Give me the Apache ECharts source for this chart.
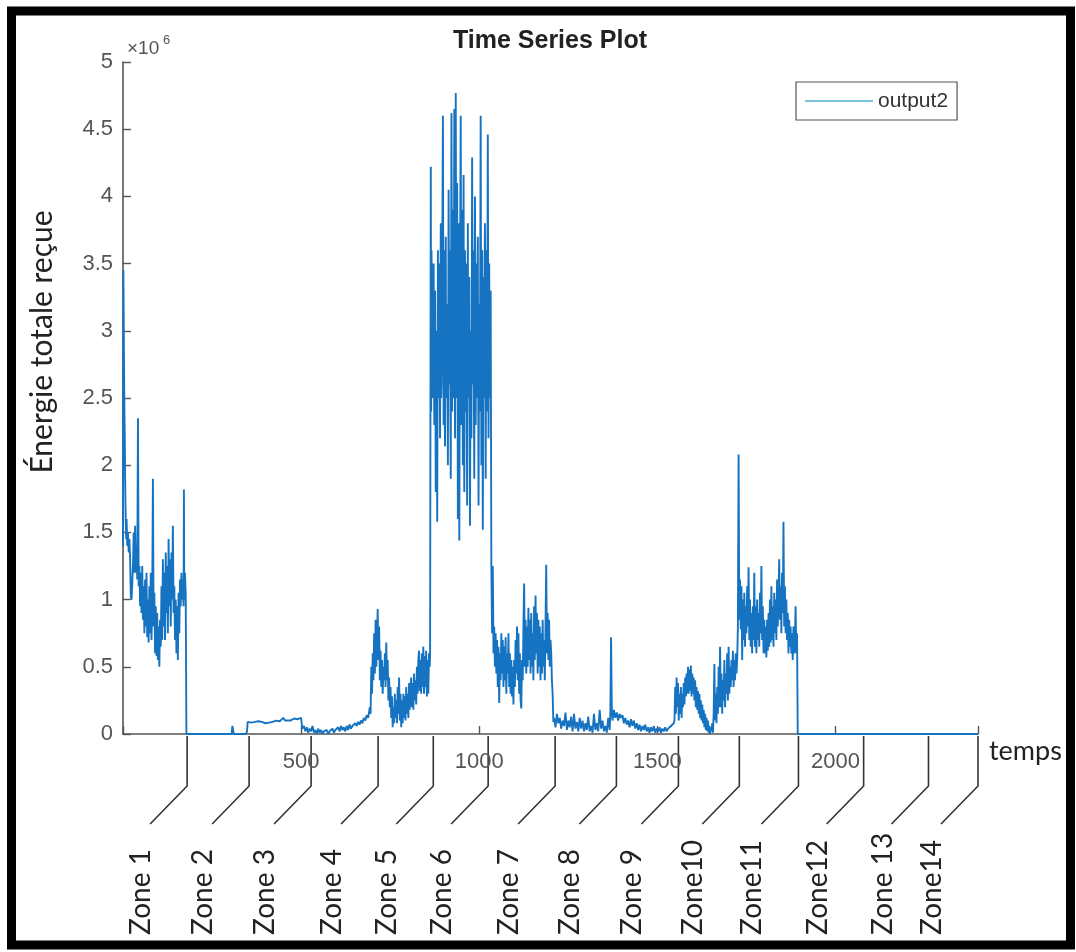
<!DOCTYPE html>
<html>
<head>
<meta charset="utf-8">
<script src="https://cdn.jsdelivr.net/npm/echarts@6/dist/echarts.min.js"></script>
<style>
  html, body { margin: 0; padding: 0; background: #ffffff; }
  #chart { width: 1076px; height: 952px; }
</style>
</head>
<body>
<div id="chart"></div>
<script>
// Values: [temps, énergie (×10^6)]
const zone1Data = [[0,1.4],[1,3.45],[2,3.1],[3,2.7],[4,2.4],[5,2.2],[6,1.9],[7,1.7],[8,1.55],[9,1.45],[10,1.6],[12,1.4],[14,1.5],[16,1.35],[18,1.45],[20,1.3],[22,1.02],[24,1.0],[27,1.0],
[28,1.25],[30,1.5],[32,1.2],[34,1.55],[36,1.2],[38,1.4],[40,1.15],[42,2.35],[44,1.1],[46,1.25],[48,0.95],[50,1.2],[52,0.9],[54,1.25],[56,0.85],[58,1.1],[60,0.75],[62,1.15],[64,0.8],[66,1.2],[68,0.72],[70,1.0],[72,0.68],[74,1.1],[76,0.75],[78,1.2],[80,0.7],[82,1.0],[84,1.9],[86,0.8],[88,1.05],[90,0.6],[92,0.95],[94,0.58],[96,0.9],[98,0.55],[100,0.8],[102,0.5],[104,0.85],[106,0.65],[108,1.1],[110,0.7],[112,1.3],[114,0.8],[116,1.2],[118,0.7],[120,1.35],[122,0.9],[124,1.25],[126,0.75],[128,1.45],[130,0.95],[132,1.3],[134,0.8],[136,1.35],[138,1.0],[140,1.55],[142,0.9],[144,1.1],[146,0.7],[148,1.0],[150,0.6],[152,0.95],[154,0.55],[156,1.05],[158,0.75],[160,1.15],[162,0.95],[164,1.2],[166,1.0],[168,1.15],[170,0.95],[171,1.82],[172,1.0],[174,1.2],[176,1.05],[178,0]];
const zone23Data = [[305,0],[307,0.06],[309,0.07],[311,0],[345,0],[348,0.02],[350,0.09],[360,0.085],[370,0.09],[380,0.095],[390,0.09],[400,0.08],[410,0.085],[420,0.09],[430,0.1],[440,0.095],[450,0.12],[455,0.1],[460,0.11],[470,0.1],[480,0.115],[490,0.11],[500,0.12],[503,0.04]];
const zone4Data = [[504,0.03],[508,0.06],[512,0.02],[516,0.05],[520,0.01],[524,0.04],[528,0.02],[532,0.06],[536,0.01],[540,0.03],[544,0.0],[548,0.04],[552,0.01],[556,0.03],[560,0.0],[564,0.02],[568,0.01],[572,0.03],[576,0.0],[580,0.02],[584,0.01],[588,0.04],[592,0.01],[596,0.03],[600,0.02],[604,0.05],[608,0.02],[612,0.06],[616,0.03],[620,0.05],[624,0.02],[628,0.06],[632,0.03],[636,0.07],[640,0.04],[644,0.06],[648,0.05],[652,0.08],[656,0.06],[660,0.09],[664,0.07],[668,0.1],[672,0.08],[676,0.12],[680,0.1],[684,0.14],[688,0.12]];
const zone5Data = [[690,0.12],[693,0.2],[695,0.15],[697,0.5],[699,0.3],[701,0.6],[703,0.4],[705,0.75],[707,0.45],[709,0.85],[711,0.5],[713,0.7],[715,0.93],[717,0.55],[719,0.8],[721,0.4],[723,0.62],[725,0.35],[727,0.55],[729,0.3],[731,0.5],[733,0.4],[735,0.6],[737,0.35],[739,0.68],[741,0.4],[743,0.55],[745,0.25],[747,0.42],[749,0.2],[751,0.35],[753,0.12],[755,0.28],[757,0.05],[759,0.2],[761,0.08],[763,0.3],[765,0.12],[767,0.25],[769,0.08],[771,0.35],[773,0.15],[775,0.42],[777,0.1],[779,0.3],[781,0.05],[783,0.25],[785,0.08],[787,0.3],[789,0.12],[791,0.28],[793,0.1],[795,0.35],[797,0.15],[799,0.3],[801,0.12],[803,0.38],[805,0.18],[807,0.35],[809,0.42],[811,0.2],[813,0.38],[815,0.18],[817,0.45],[819,0.25],[821,0.4],[823,0.22],[825,0.5],[827,0.3],[829,0.55],[831,0.62],[833,0.32],[835,0.55],[837,0.3],[839,0.6],[841,0.35],[843,0.65],[845,0.3],[847,0.58],[849,0.35],[851,0.62],[853,0.28],[855,0.55],[857,0.3],[859,0.6],[861,0.5]];
const zone6Data = [[862,0.6],[864,4.22],[865,2.4],[866,3.6],[868,2.5],[869,3.5],[870,2.5],[872,3.5],[873,2.6],[874,2.3],[876,3.3],[878,1.8],[880,3.0],[882,1.58],[884,3.6],[885,2.5],[886,2.6],[887,3.4],[888,3.5],[890,2.2],[892,3.8],[893,2.5],[894,2.6],[896,3.4],[898,4.6],[900,2.3],[901,3.6],[902,3.5],[903,2.4],[904,2.14],[906,3.7],[907,2.6],[908,2.5],[910,3.2],[912,2.0],[914,4.05],[916,2.6],[917,3.5],[918,3.6],[919,2.5],[920,1.9],[922,4.62],[924,2.4],[926,3.9],[927,2.5],[928,2.7],[929,3.6],[930,4.65],[932,2.2],[934,4.77],[936,2.5],[937,3.5],[938,4.1],[940,1.6],[942,3.8],[943,2.4],[944,1.44],[946,3.4],[948,4.6],[950,2.3],[951,3.6],[952,3.9],[954,2.0],[956,4.16],[957,2.5],[958,1.8],[960,3.6],[961,2.5],[962,2.4],[963,3.5],[964,3.2],[966,1.7],[968,3.8],[969,2.6],[970,2.5],[972,3.4],[974,1.55],[976,3.0],[977,2.4],[978,2.2],[980,4.29],[982,2.6],[983,3.5],[984,3.6],[985,2.5],[986,1.9],[988,4.0],[990,2.3],[992,3.5],[993,2.5],[994,2.8],[996,3.7],[998,1.7],[1000,3.2],[1001,2.4],[1002,2.5],[1003,3.6],[1004,4.6],[1006,2.0],[1008,3.6],[1010,1.52],[1012,3.4],[1013,2.5],[1014,2.6],[1015,3.5],[1016,3.8],[1018,1.9],[1020,3.6],[1022,2.4],[1024,4.46],[1026,2.2],[1028,3.5],[1029,2.5],[1030,2.6],[1032,3.3],[1034,1.25]];
const zone7Data = [[1036,0.75],[1038,1.25],[1040,0.6],[1042,0.8],[1044,0.5],[1046,0.75],[1048,0.45],[1050,0.7],[1052,0.35],[1054,0.65],[1056,0.23],[1058,0.6],[1060,0.4],[1062,0.75],[1064,0.45],[1066,0.7],[1068,0.35],[1070,0.65],[1072,0.4],[1074,0.72],[1076,0.3],[1078,0.6],[1080,0.45],[1082,0.75],[1084,0.35],[1086,0.6],[1088,0.3],[1090,0.55],[1092,0.28],[1094,0.5],[1096,0.22],[1098,0.55],[1100,0.35],[1102,0.7],[1104,0.45],[1106,0.8],[1108,0.4],[1110,0.75],[1112,0.3],[1114,0.6],[1116,0.25],[1118,0.19],[1120,0.55],[1122,0.4],[1124,0.8],[1126,1.12],[1128,0.5],[1130,0.85],[1132,0.45],[1134,0.8],[1136,0.5],[1138,0.94],[1140,0.55],[1142,0.85],[1144,0.45],[1146,0.9],[1148,0.5],[1150,0.75],[1152,0.4],[1154,0.95],[1156,0.55],[1158,1.03],[1160,0.6],[1162,0.9],[1164,0.45],[1166,0.85],[1168,0.5],[1170,0.8],[1172,0.4],[1174,0.75],[1176,0.45],[1178,0.85],[1180,0.5],[1182,0.7],[1184,0.4],[1186,0.8],[1188,1.26],[1190,0.6],[1192,0.9],[1194,0.55],[1196,0.85],[1198,0.5],[1200,0.7],[1202,0.6],[1204,0.4],[1206,0.3],[1208,0.09]];
const zone8Data = [[1210,0.12],[1214,0.05],[1218,0.15],[1222,0.08],[1226,0.12],[1230,0.04],[1234,0.1],[1238,0.06],[1242,0.16],[1246,0.03],[1250,0.1],[1254,0.05],[1258,0.13],[1262,0.02],[1266,0.15],[1270,0.04],[1274,0.09],[1278,0.02],[1282,0.12],[1286,0.04],[1290,0.1],[1294,0.02],[1298,0.08],[1302,0.03],[1306,0.13],[1310,0.02],[1314,0.06],[1318,0.01],[1322,0.15],[1326,0.03],[1330,0.08],[1334,0.02],[1338,0.18],[1342,0.04],[1346,0.1],[1350,0.02],[1354,0.06],[1358,0.01],[1362,0.12],[1366,0.03],[1368,0.15],[1370,0.72],[1372,0.2],[1374,0.1],[1378,0.18],[1382,0.12],[1386,0.16],[1390,0.1],[1394,0.15],[1398,0.12],[1402,0.14],[1406,0.08],[1410,0.12],[1414,0.07],[1418,0.1]];
const zone9Data = [[1422,0.05],[1426,0.11],[1430,0.06],[1434,0.1],[1438,0.04],[1442,0.08],[1446,0.03],[1450,0.07],[1454,0.02],[1458,0.06],[1462,0.03],[1466,0.07],[1470,0.02],[1474,0.05],[1478,0.01],[1482,0.05],[1486,0.02],[1490,0.06],[1494,0.01],[1498,0.04],[1502,0.02],[1506,0.05],[1510,0.01],[1514,0.04],[1518,0.02],[1522,0.05],[1526,0.02],[1530,0.04],[1534,0.03],[1538,0.06],[1542,0.05],[1546,0.08]];
const zone10Data = [[1548,0.1],[1550,0.35],[1552,0.15],[1554,0.42],[1556,0.2],[1558,0.38],[1560,0.1],[1562,0.3],[1564,0.15],[1566,0.35],[1568,0.12],[1570,0.3],[1572,0.2],[1574,0.38],[1576,0.22],[1578,0.42],[1580,0.28],[1582,0.45],[1584,0.3],[1586,0.5],[1588,0.3],[1590,0.48],[1592,0.32],[1594,0.51],[1596,0.28],[1598,0.45],[1600,0.3],[1602,0.42],[1604,0.25],[1606,0.4],[1608,0.2],[1610,0.35],[1612,0.18],[1614,0.32],[1616,0.15],[1618,0.3],[1620,0.12],[1622,0.25],[1624,0.1],[1626,0.22],[1628,0.08],[1630,0.18],[1632,0.05],[1634,0.15],[1636,0.03],[1638,0.12],[1640,0.02],[1642,0.1],[1644,0.01],[1646,0.06],[1648,0.0],[1650,0.05],[1652,0.02],[1654,0.08],[1656,0.01],[1658,0.15],[1660,0.52],[1662,0.1],[1664,0.3],[1666,0.08],[1668,0.35],[1670,0.15],[1672,0.5],[1674,0.2],[1676,0.65],[1678,0.2],[1680,0.45],[1682,0.15],[1684,0.4],[1686,0.25],[1688,0.55],[1690,0.2],[1692,0.45],[1694,0.3],[1696,0.6],[1698,0.25],[1700,0.65],[1702,0.3],[1704,0.5],[1706,0.35],[1708,0.55],[1710,0.4],[1712,0.62],[1714,0.35],[1716,0.55],[1718,0.4],[1720,0.6],[1722,0.45],[1724,0.55],[1726,0.8]];
const zone11Data = [[1728,2.08],[1730,0.85],[1732,1.15],[1734,0.78],[1736,1.1],[1738,0.55],[1740,1.0],[1742,0.7],[1744,1.05],[1746,0.65],[1748,0.95],[1750,0.75],[1752,1.1],[1754,0.8],[1756,1.24],[1758,0.7],[1760,1.0],[1762,0.65],[1764,0.9],[1766,0.6],[1768,0.95],[1770,0.7],[1772,1.2],[1774,0.65],[1776,0.95],[1778,0.6],[1780,1.0],[1782,0.7],[1784,0.9],[1786,0.65],[1788,1.05],[1790,0.75],[1792,1.25],[1794,0.7],[1796,0.95],[1798,0.6],[1800,0.85],[1802,0.6],[1804,0.8],[1806,0.57],[1808,0.85],[1810,0.62],[1812,0.9],[1814,0.65],[1816,1.0],[1818,0.68],[1820,1.1],[1822,0.7],[1824,0.95],[1826,0.65],[1828,1.05],[1830,0.75],[1832,1.0],[1834,0.7],[1836,1.15],[1838,0.8],[1840,1.05],[1842,1.3],[1844,0.85],[1846,1.1],[1848,0.75],[1850,1.2],[1852,0.9],[1854,1.58],[1856,0.8],[1858,1.1],[1860,0.75],[1862,1.0],[1864,0.7],[1866,0.9],[1868,0.6],[1870,0.85],[1872,0.65],[1874,0.8],[1876,0.6],[1878,0.75],[1880,0.55],[1882,0.8],[1884,0.6],[1886,0.7],[1888,0.95],[1890,0.6],[1892,0.75],[1894,0.0]];
const zone12to14Data = [[2400,0.0]];

const xTickLabels = [500, 1000, 1500, 2000];
const zoneBoundaries = [180, 354, 528, 716, 871, 1025, 1213, 1385, 1559, 1730, 1896, 2079, 2261, 2400];
const zoneNames = ['Zone 1','Zone 2','Zone 3','Zone 4','Zone 5','Zone 6','Zone 7','Zone 8','Zone 9','Zone10','Zone11','Zone12','Zone 13','Zone14'];

const seriesData = [].concat(zone1Data, zone23Data, zone4Data, zone5Data, zone6Data, zone7Data,
  zone8Data, zone9Data, zone10Data, zone11Data, zone12to14Data);

const chart = echarts.init(document.getElementById('chart'), null, {renderer: 'canvas'});
const axisGray = '#555555';
const helv = 'Liberation Sans, Arial, sans-serif';
const calib = 'Lato, "Open Sans", sans-serif';

chart.setOption({
  animation: false,
  backgroundColor: '#ffffff',
  title: {
    text: 'Time Series Plot',
    left: 550, top: 29, textAlign: 'center', padding: 0,
    textStyle: { fontSize: 25, fontWeight: 'bold', color: '#222', fontFamily: helv }
  },
  legend: {
    data: ['output2'],
    left: 796, top: 82,
    padding: [8, 9, 8, 9],
    backgroundColor: '#ffffff',
    borderColor: '#555', borderWidth: 1.2,
    icon: 'rect', itemWidth: 68, itemHeight: 2,
    itemStyle: { color: '#7cc0de' },
    textStyle: { fontSize: 21, color: '#333', fontFamily: helv, lineHeight: 22 }
  },
  grid: { left: 123, right: 98, top: 62, bottom: 218 },
  xAxis: {
    type: 'value', min: 0, max: 2400, interval: 500,
    axisLine: { show: true, lineStyle: { color: axisGray, width: 1.6 } },
    axisTick: { show: true, inside: true, length: 8, lineStyle: { color: axisGray, width: 1.4 } },
    axisLabel: {
      fontSize: 22, color: axisGray, fontFamily: helv, margin: 17,
      formatter: v => xTickLabels.indexOf(v) >= 0 ? String(v) : ''
    },
    splitLine: { show: false }
  },
  yAxis: {
    type: 'value', min: 0, max: 5, interval: 0.5,
    axisLine: { show: true, lineStyle: { color: axisGray, width: 1.6 } },
    axisTick: { show: true, inside: true, length: 8, lineStyle: { color: axisGray, width: 1.4 } },
    axisLabel: { fontSize: 22, color: axisGray, fontFamily: helv, margin: 10 },
    splitLine: { show: false }
  },
  series: [{
    name: 'output2', type: 'line', data: seriesData,
    symbol: 'none', sampling: null,
    lineStyle: { color: '#1673c2', width: 1.9 },
    itemStyle: { color: '#1673c2' }
  }]
});

// Annotations positioned through the axes
const origin = chart.convertToPixel({gridIndex: 0}, [0, 0]);
const topLeft = chart.convertToPixel({gridIndex: 0}, [0, 5]);
const xEnd = chart.convertToPixel({gridIndex: 0}, [2400, 0]);
const ax = origin[0], ay = origin[1];
const g = [];
// frame
g.push({ type: 'rect', shape: { x: 11.5, y: 11, width: 1059, height: 934 },
  style: { fill: 'none', stroke: '#000', lineWidth: 9 }, z: 100 });
// exponent
g.push({ type: 'text', x: topLeft[0] + 4, y: topLeft[1] - 13,
  style: { text: '×10', fontSize: 19, fontFamily: helv, fill: axisGray, textAlign: 'left', textVerticalAlign: 'middle' } });
g.push({ type: 'text', x: topLeft[0] + 40, y: topLeft[1] - 22,
  style: { text: '6', fontSize: 13, fontFamily: helv, fill: axisGray, textAlign: 'left', textVerticalAlign: 'middle' } });
// y axis label
g.push({ type: 'text', x: 42, y: 342, rotation: Math.PI / 2,
  style: { text: 'Énergie totale reçue', fontSize: 30, fontFamily: calib, fill: '#222', textAlign: 'center', textVerticalAlign: 'middle' } });
// x axis label
g.push({ type: 'text', x: xEnd[0] + 11, y: ay + 17,
  style: { text: 'temps', fontSize: 27, fontFamily: calib, fill: '#222', textAlign: 'left', textVerticalAlign: 'middle' } });
// zone markers
zoneBoundaries.forEach((b, i) => {
  const px = chart.convertToPixel({xAxisIndex: 0}, b);
  g.push({ type: 'polyline', shape: { points: [[px, ay + 2], [px, ay + 52], [px - 37, ay + 90]] },
    style: { fill: 'none', stroke: '#333', lineWidth: 1.6 } });
  g.push({ type: 'text', x: px - 46, y: ay + 201, rotation: Math.PI / 2,
    style: { text: zoneNames[i], fontSize: 28, fontFamily: calib, fill: '#222', textAlign: 'left', textVerticalAlign: 'middle' } });
});
chart.setOption({ graphic: g });
</script>
</body>
</html>
